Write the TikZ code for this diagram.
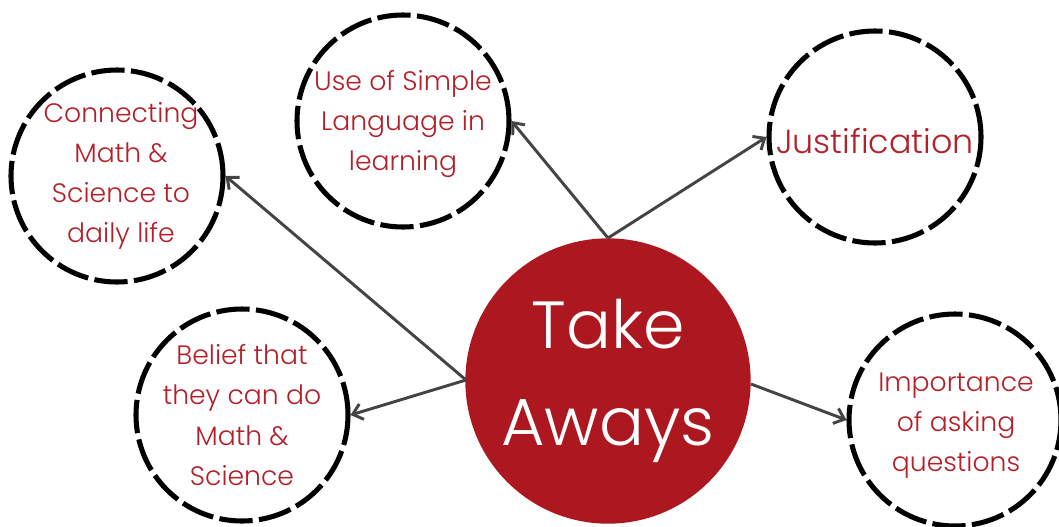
\documentclass[tikz,border=0pt]{standalone}
\usepackage{fontspec}
\setmainfont{Poppins}[UprightFont=* Light]
\usetikzlibrary{arrows.meta}
\definecolor{tared}{HTML}{AD1820}
\definecolor{txtred}{HTML}{B3202A}
\definecolor{arrgray}{HTML}{444444}
\tikzset{
  idea/.style={circle, draw=black, line width=3.8pt, dash pattern=on 25pt off 4.8pt,
    minimum size=159pt, inner sep=0pt},
  ideatext/.style={align=center, text=txtred, inner sep=0pt,
    font=\fontsize{20}{30}\selectfont},
  hub/.style={circle, fill=tared, minimum size=214pt, inner sep=0pt, align=center,
    text=white, font=\fontsize{50}{73}\selectfont},
  link/.style={draw=arrgray, line width=2.2pt, -{Straight Barb[length=7pt,width=12pt,line width=2.2pt]}}
}
\begin{document}
\begin{tikzpicture}[x=0.75pt,y=-0.75pt]
\useasboundingbox (0,0) rectangle (1059,526);
\node[hub] (ta) at (608,381) {Take\\Aways};
\node[idea] (con) at (117,176) {};
\node[idea] (sim) at (403,121) {};
\node[idea] (jus) at (875,137) {};
\node[idea] (bel) at (242,415) {};
\node[idea] (imp) at (955,420) {};
\node[ideatext] (cont) at (121,176) {Connecting\\Math \&\\Science to\\daily life};
\node[ideatext] (simt) at (403,124) {Use of Simple\\Language in\\learning};
\node[ideatext, font=\fontsize{25}{30}\selectfont] (just) at (875,141) {Justification};
\node[ideatext] (belt) at (242,415) {Belief that\\they can do\\Math \&\\Science};
\node[ideatext] (impt) at (956,426) {Importance\\of asking\\questions};
\coordinate (top) at (608,238);
\coordinate (lft) at (466,380);
\coordinate (rgt) at (751,384);
\draw[link] (top) -- (sim.east);
\draw[link] (top) -- (jus.west);
\draw[link] (lft) -- (con.east);
\draw[link] (lft) -- (bel.east);
\draw[link] (rgt) -- (imp.west);
\end{tikzpicture}
\end{document}
